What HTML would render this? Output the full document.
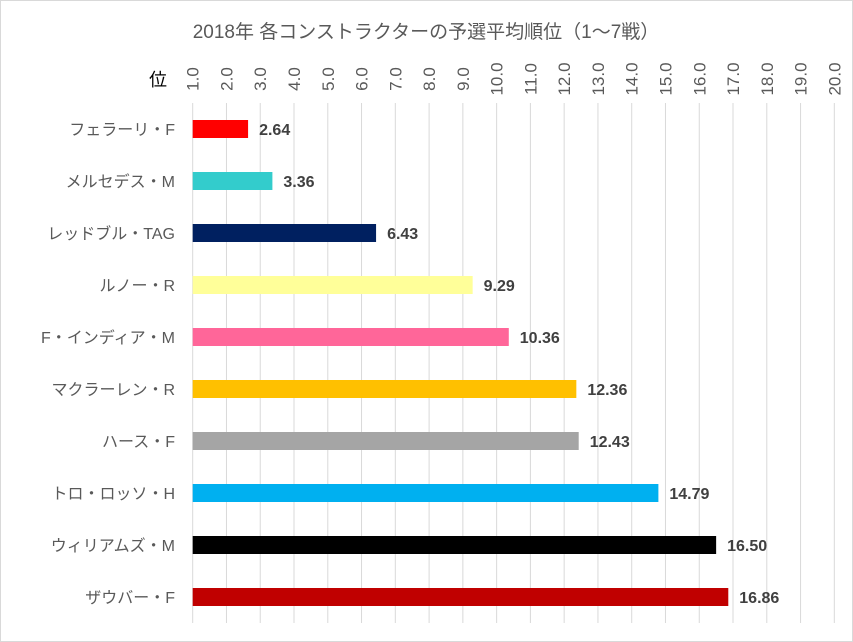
<!DOCTYPE html>
<html><head><meta charset="utf-8"><style>
body{margin:0;background:#fff}
svg{display:block;font-family:"Liberation Sans","Noto Sans CJK JP",sans-serif}
</style></head><body>
<svg id="c" width="853" height="642">
<rect x="0.5" y="0.5" width="852" height="641" fill="#fff" stroke="#d9d9d9"/>
<text x="426" y="38" text-anchor="middle" font-size="19" fill="#595959">2018年 各コンストラクターの予選平均順位（1～7戦）</text>
<text x="158" y="86" text-anchor="middle" font-size="18" fill="#000">位</text>
<g id="grid"></g><g id="bars"></g>
</svg>
<script>
const teams=["フェラーリ・F","メルセデス・M","レッドブル・TAG","ルノー・R","F・インディア・M","マクラーレン・R","ハース・F","トロ・ロッソ・H","ウィリアムズ・M","ザウバー・F"];
const values=[2.64,3.36,6.43,9.29,10.36,12.36,12.43,14.79,16.50,16.86];
const colors=["#ff0000","#33cccc","#002060","#ffff99","#ff6699","#ffc000","#a5a5a5","#00b0f0","#000000","#c00000"];
const ticks=[1,2,3,4,5,6,7,8,9,10,11,12,13,14,15,16,17,18,19,20];
const ns="http://www.w3.org/2000/svg";
const x=v=>192.7+(v-1)*33.77;
const yc=i=>129+i*52;
const grid=document.getElementById('grid'),bars=document.getElementById('bars');
ticks.forEach(t=>{
 const l=document.createElementNS(ns,'line');
 
 
 l.setAttribute('x1',x(t));l.setAttribute('x2',x(t));l.setAttribute('y1',103);l.setAttribute('y2',623);
 l.setAttribute('stroke','#d9d9d9');grid.appendChild(l);
 const tx=document.createElementNS(ns,'text');
 
 
 tx.setAttribute('transform',`translate(${x(t)+6},79) rotate(-90)`);
 tx.setAttribute('text-anchor','middle');tx.setAttribute('font-size','17');tx.setAttribute('fill','#595959');
 tx.textContent=t.toFixed(1);grid.appendChild(tx);
});
values.forEach((v,i)=>{
 const r=document.createElementNS(ns,'rect');
 
 
 r.setAttribute('x',x(1));r.setAttribute('y',yc(i)-9);r.setAttribute('width',x(v)-x(1));r.setAttribute('height',18);
 r.setAttribute('fill',colors[i]);bars.appendChild(r);
 const vl=document.createElementNS(ns,'text');
 
 
 vl.setAttribute('x',x(v)+11);vl.setAttribute('y',yc(i)+6);vl.setAttribute('font-size','16');vl.setAttribute('font-weight','bold');vl.setAttribute('fill','#404040');
 vl.textContent=v.toFixed(2);bars.appendChild(vl);
 const cl=document.createElementNS(ns,'text');
 
 
 cl.setAttribute('x',175);cl.setAttribute('y',yc(i)+6);cl.setAttribute('text-anchor','end');cl.setAttribute('font-size','16');cl.setAttribute('fill','#595959');
 cl.textContent=teams[i];bars.appendChild(cl);
});
</script>
</body></html>
